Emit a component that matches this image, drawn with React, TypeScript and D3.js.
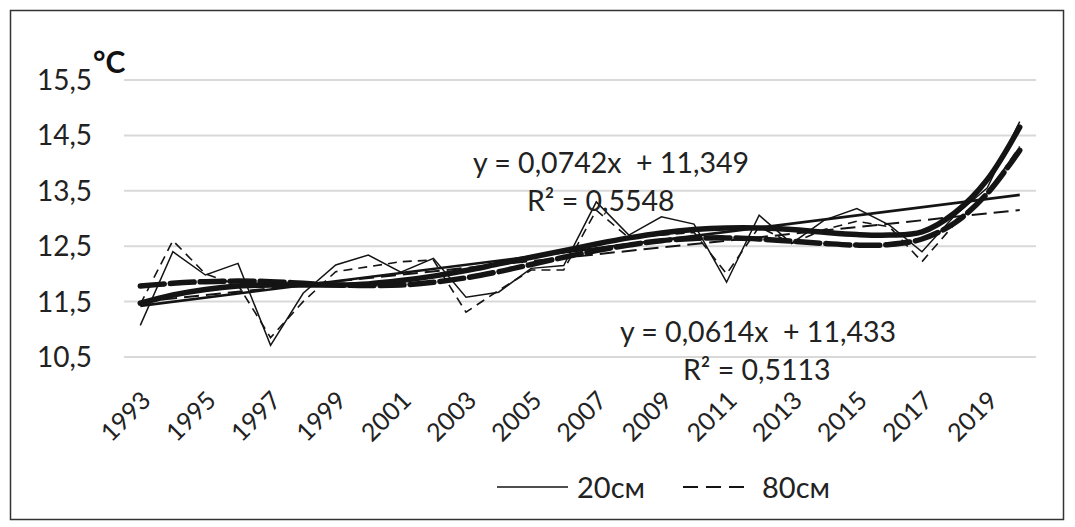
import React from "react";
import * as d3 from "d3";

const years = d3.range(1993, 2021).map(String);
const tickYears = ["1993","1995","1997","1999","2001","2003","2005","2007","2009","2011","2013","2015","2017","2019"];
const yTicks = [10.5, 11.5, 12.5, 13.5, 14.5, 15.5];

const t20 = [11.07,12.40,11.98,12.19,10.71,11.65,12.16,12.34,12.03,12.28,11.58,11.67,12.10,12.15,13.30,12.70,13.03,12.90,11.85,13.06,12.55,12.97,13.18,12.88,12.40,13.05,13.55,14.75];
const t80 = [11.45,12.60,12.00,11.80,10.85,11.50,12.04,12.13,12.22,12.25,11.31,11.70,12.07,12.07,13.15,12.65,12.70,12.75,12.00,12.85,12.55,12.80,12.95,12.85,12.22,12.90,13.45,14.30];

// polynomial trend
const poly20 = [11.47,11.62,11.72,11.78,11.80,11.80,11.80,11.82,11.88,11.96,12.06,12.18,12.30,12.42,12.54,12.65,12.74,12.80,12.83,12.83,12.80,12.75,12.71,12.70,12.76,13.10,13.70,14.65];
const poly80 = [11.78,11.83,11.86,11.87,11.86,11.83,11.80,11.79,11.80,11.85,11.93,12.04,12.17,12.30,12.42,12.52,12.60,12.64,12.65,12.63,12.59,12.55,12.52,12.53,12.63,12.92,13.45,14.23];

// linear trend coefficients
const lin20 = [0.0742, 11.349];
const lin80 = [0.0614, 11.433];

const eq20 = ["y = 0,0742x  + 11,349", "R² = 0,5548"];
const eq80 = ["y = 0,0614x  + 11,433", "R² = 0,5113"];
const legendLabels = ["20см", "80см"];

const W = 1075, H = 527;
const FONT = "Lato, 'Open Sans', sans-serif";
const INK = "#141414";

export default function App() {
  const x = d3.scalePoint<string>().domain(years).range([124, 1036]).padding(0.5);
  const y = d3.scaleLinear().domain([10.5, 15.5]).range([357, 80]);
  const idx = (i: number) => x(years[i]) as number;

  const line = d3.line<number>().x((_, i) => idx(i)).y((d) => y(d));
  const smooth = d3.line<number>().x((_, i) => idx(i)).y((d) => y(d)).curve(d3.curveCatmullRom.alpha(0.5));

  const linPath = (c: number[]) => {
    const pts = [1, years.length].map((k) => [idx(k - 1), y(c[0] * k + c[1])] as [number, number]);
    return d3.line()(pts) as string;
  };

  return (
    <svg width={W} height={H} style={{ position: "absolute", left: 0, top: 0, background: "#fff" }} fontFamily={FONT}>
      <rect x={0} y={0} width={W} height={H} fill="#fff" />
      <rect x={10.5} y={10.5} width={1053} height={509} fill="none" stroke="#333" strokeWidth={1.5} />
      {yTicks.map((t) => (
        <g key={t}>
          <line x1={124} x2={1036} y1={y(t)} y2={y(t)} stroke="#d9d9d9" strokeWidth={2} />
          <text x={92} y={y(t) + 3} textAnchor="end" dominantBaseline="middle" fontSize={28} fill="#222">
            {String(t).replace(".", ",")}
          </text>
        </g>
      ))}
      <text x={93} y={73} fontSize={30} fontWeight="bold" fill="#111">°C</text>

      {tickYears.map((yr) => {
        const px = (x(yr) as number) + 12;
        const py = 402;
        return (
          <text key={yr} x={px} y={py} fontSize={25} textAnchor="end" fill="#222" transform={`rotate(-45 ${px} ${py})`}>
            {yr}
          </text>
        );
      })}

      <path d={line(t20) as string} fill="none" stroke={INK} strokeWidth={1.5} />
      <path d={line(t80) as string} fill="none" stroke={INK} strokeWidth={1.6} strokeDasharray="9,6" />

      <path d={linPath(lin20)} fill="none" stroke={INK} strokeWidth={2.6} />
      <path d={linPath(lin80)} fill="none" stroke={INK} strokeWidth={2} strokeDasharray="15,7" />

      <path d={smooth(poly20) as string} fill="none" stroke={INK} strokeWidth={5.5} strokeLinecap="round" />
      <path d={smooth(poly80) as string} fill="none" stroke={INK} strokeWidth={5.5} strokeDasharray="24,6" strokeLinecap="round" />

      <text x={473} y={173} fontSize={28.5} fill="#222" style={{ whiteSpace: "pre" }}>{eq20[0]}</text>
      <text x={527} y={211} fontSize={28.5} fill="#222">{eq20[1]}</text>
      <text x={620} y={342} fontSize={28.5} fill="#222" style={{ whiteSpace: "pre" }}>{eq80[0]}</text>
      <text x={683} y={380} fontSize={28.5} fill="#222">{eq80[1]}</text>

      <line x1={497} x2={568} y1={487} y2={487} stroke={INK} strokeWidth={1.6} />
      <text x={577} y={498} fontSize={29} fill="#222">{legendLabels[0]}</text>
      <line x1={683} x2={746} y1={487} y2={487} stroke={INK} strokeWidth={1.8} strokeDasharray="15,8" />
      <text x={762} y={498} fontSize={29} fill="#222">{legendLabels[1]}</text>
    </svg>
  );
}
